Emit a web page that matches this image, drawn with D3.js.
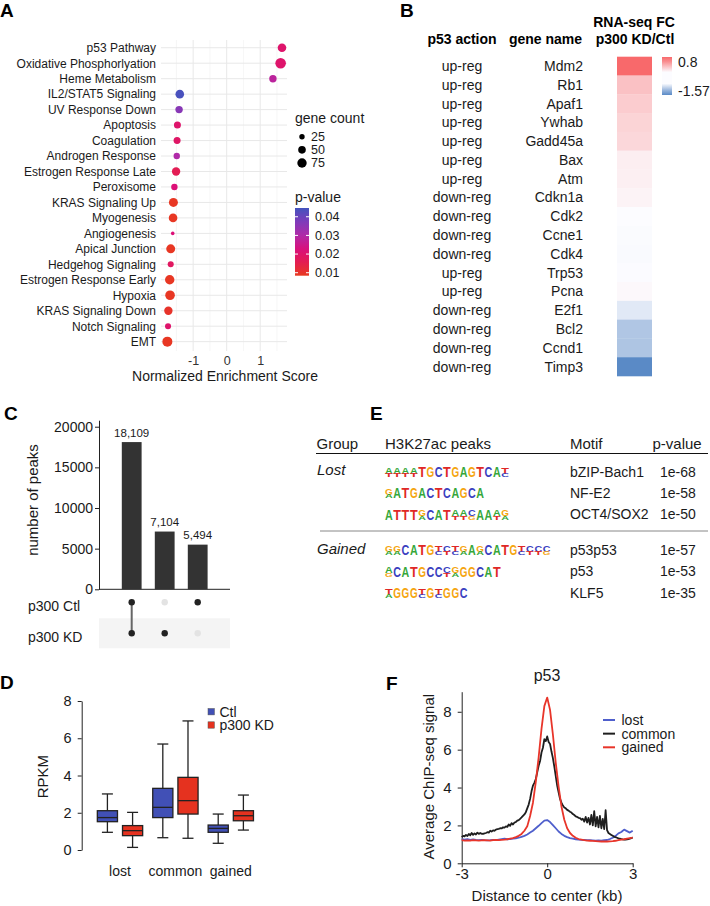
<!DOCTYPE html>
<html><head><meta charset="utf-8">
<script src="https://cdn.jsdelivr.net/npm/d3@7"></script>
<style>body{margin:0;background:#fff} svg{display:block;font-family:"Liberation Sans",Arial,Helvetica,sans-serif}</style>
</head><body><svg id="fig" width="710" height="906"></svg>
<script>
// ---------- Panel A data ----------
const pathways = ["p53 Pathway","Oxidative Phosphorlyation","Heme Metabolism","IL2/STAT5 Signaling","UV Response Down","Apoptosis","Coagulation","Androgen Response","Estrogen Response Late","Peroxisome","KRAS Signaling Up","Myogenesis","Angiogenesis","Apical Junction","Hedgehog Signaling","Estrogen Response Early","Hypoxia","KRAS Signaling Down","Notch Signaling","EMT"];
const nesValues = [1.65,1.61,1.38,-1.40,-1.42,-1.47,-1.48,-1.49,-1.51,-1.56,-1.59,-1.60,-1.61,-1.67,-1.67,-1.70,-1.69,-1.74,-1.75,-1.77];
const geneCounts = [63,96,47,63,47,42,42,35,60,35,69,63,11,69,31,76,79,60,31,86];
const pValues = [0.020,0.020,0.028,0.044,0.036,0.020,0.019,0.030,0.016,0.022,0.009,0.009,0.022,0.009,0.018,0.009,0.009,0.010,0.020,0.009];
const nesTicks = [-1,0,1];
const sizeLegend = [25,50,75];
const pLegend = [0.04,0.03,0.02,0.01];

// ---------- Panel B data ----------
const geneNames = ["Mdm2","Rb1","Apaf1","Ywhab","Gadd45a","Bax","Atm","Cdkn1a","Cdk2","Ccne1","Cdk4","Trp53","Pcna","E2f1","Bcl2","Ccnd1","Timp3"];
const p53Action = ["up-reg","up-reg","up-reg","up-reg","up-reg","up-reg","up-reg","down-reg","down-reg","down-reg","down-reg","up-reg","up-reg","down-reg","down-reg","down-reg","down-reg"];
const foldChange = [0.8,0.32,0.26,0.22,0.20,0.075,0.07,0.05,0.0,-0.02,-0.03,-0.01,0.02,-0.26,-0.74,-0.76,-1.57];

// ---------- Panel C data ----------
const intersections = ["both","KD only","Ctl only"];
const peakCounts = [18109,7104,5494];
const peakSets = ["p300 Ctl","p300 KD"];
const membership = [[1,1],[0,1],[1,0]];
const peakTicks = [0,5000,10000,15000,20000];

// ---------- Panel D data ----------
const boxGroups = ["lost","common","gained"];
const boxConditions = ["Ctl","p300 KD"];
const whiskerLow = [0.95,0.14,0.66,0.63,0.36,1.07];
const q1Values = [1.52,0.77,1.74,1.93,0.95,1.57];
const medianValues = [1.74,1.04,2.29,2.65,1.16,1.84];
const q3Values = [2.11,1.31,3.31,3.90,1.34,2.11];
const whiskerHigh = [3.01,2.02,5.69,6.93,1.93,2.95];
const rpkmTicks = [0,2,4,6,8];

// ---------- Panel E data ----------
const motifGroups = ["Lost","Lost","Lost","Gained","Gained","Gained"];
const motifNames = ["bZIP-Bach1","NF-E2","OCT4/SOX2","p53p53","p53","KLF5"];
const motifPvalues = ["1e-68","1e-58","1e-50","1e-57","1e-53","1e-35"];
const motifLogos = [
  ["AT","AT","AT","AT","T","G","C","T","G","A","G","T","C","A","TC"],
  ["GA","A","T","G","A","C","T","C","A","G","C","A"],
  ["A","T","T","T","GA","C","A","T","AT","AT","CG","A","A","AT","GA"],
  ["GA","GA","C","A","T","G","TC","CT","TC","GA","A","GA","C","A","T","G","TC","CT","CT","CG"],
  ["AG","C","A","T","G","C","C","CT","GA","G","G","C","A","T"],
  ["TA","G","G","G","TC","G","TC","G","G","C"]
];

// ---------- Panel F data ----------
const profileSeries = ["lost","common","gained"];
const lostSignal = [1.28,1.25,1.27,1.24,1.26,1.23,1.22,1.24,1.22,1.21,
 1.22,1.24,1.22,1.25,1.28,1.30,1.27,1.28,1.30,1.32,
 1.35,1.40,1.45,1.52,1.62,1.72,1.85,1.98,2.12,2.25,
 2.28,
 2.18,2.02,1.85,1.68,1.55,1.45,1.38,1.33,1.30,1.27,
 1.25,1.24,1.23,1.22,1.22,1.21,1.20,1.21,1.20,1.22,
 1.23,1.28,1.35,1.45,1.58,1.65,1.78,1.70,1.62,1.72];
const gainedSignal = [1.22,1.20,1.21,1.20,1.22,1.21,1.20,1.21,1.22,1.21,
 1.20,1.22,1.23,1.22,1.24,1.25,1.27,1.30,1.33,1.38,
 1.45,1.55,1.72,1.95,2.50,3.20,4.30,5.60,7.10,8.30,
 8.75,
 8.10,6.80,5.30,4.05,3.00,2.30,1.85,1.60,1.45,1.35,
 1.28,1.25,1.22,1.20,1.19,1.18,1.17,1.16,1.15,1.15,
 1.15,1.16,1.17,1.19,1.22,1.25,1.27,1.30,1.33,1.35];
const commonSignal = [1.38,1.45,1.42,1.50,1.44,1.55,1.48,1.60,1.50,1.58,
 1.52,1.62,1.55,1.60,1.56,1.55,1.58,1.60,1.64,1.62,
 1.72,1.68,1.74,1.72,1.78,1.80,1.82,1.85,1.84,1.90,
 1.88,1.95,1.92,2.05,1.98,2.12,2.05,2.15,2.18,2.25,
 2.28,2.35,2.42,2.50,2.58,2.70,2.90,3.10,3.40,3.80,
 4.10,4.25,4.45,4.80,5.15,5.40,5.85,6.10,6.55,6.45,
 6.70,6.40,6.30,5.90,5.55,5.10,4.60,4.10,3.75,3.40,
 3.20,3.05,2.95,2.90,2.82,2.78,2.72,2.68,2.60,2.55,
 2.48,2.45,2.40,2.38,2.30,2.35,2.20,2.45,2.15,2.40,
 2.05,2.55,2.00,2.75,1.95,2.45,1.90,2.50,1.85,2.35,
 1.80,2.80,1.75,1.60,1.55,1.50,1.45,1.40,1.38,1.35,
 1.32,1.30,1.28,1.26,1.25,1.25,1.26,1.28,1.30,1.33,
 1.35];
const signalTicks = [0,2,4,6,8];
const distTicks = [-3,0,3];

// ================== DRAW ==================
const svg = d3.select("#fig");
const TXT = "#1a1a1a";
function label(g, t, x, y, o) {
  o = o || {};
  const el = g.append("text").attr("x", x).attr("y", y).attr("dy", o.dy === undefined ? "0.35em" : o.dy)
    .attr("font-size", o.size || 14).attr("fill", o.fill || TXT)
    .attr("text-anchor", o.anchor || "start").text(t);
  if (o.weight) el.attr("font-weight", o.weight);
  if (o.style) el.attr("font-style", o.style);
  if (o.rotate) el.attr("transform", `rotate(-90,${x},${y})`);
  return el;
}
function panelLabel(t, x, y) { label(svg, t, x, y, {size: 19, weight: "bold", dy: 0, fill: "#000"}); }

// ---------- Panel A ----------
(function(){
  const g = svg.append("g");
  panelLabel("A", 0, 17);
  const x = d3.scaleLinear().domain([-1.96, 1.8]).range([161, 287]);
  const y = d3.scalePoint().domain(pathways).range([40, 349.4]).padding(0.5);
  const r = d3.scaleSqrt().domain([0, 100]).range([0, 5.4]);
  const col = d3.scaleLinear().domain([0.0084,0.015,0.022,0.03,0.038,0.0447])
    .range(["#e8391f","#e41f4e","#dc0f77","#b02aa8","#7a3cbb","#4353bd"]);
  const [y0, y1] = [40, 351];
  [-1.5,-0.5,0.5,1.5].forEach(v => g.append("line").attr("x1", x(v)).attr("x2", x(v)).attr("y1", y0).attr("y2", y1).attr("stroke", "#f2f2f2").attr("stroke-width", 0.7));
  nesTicks.forEach(v => g.append("line").attr("x1", x(v)).attr("x2", x(v)).attr("y1", y0).attr("y2", y1).attr("stroke", "#e8e8e8").attr("stroke-width", 1));
  pathways.forEach(p => g.append("line").attr("x1", 161).attr("x2", 287).attr("y1", y(p)).attr("y2", y(p)).attr("stroke", "#e8e8e8").attr("stroke-width", 1));
  pathways.forEach((p, i) => g.append("circle").attr("cx", x(nesValues[i])).attr("cy", y(p)).attr("r", r(geneCounts[i])).attr("fill", col(pValues[i])));
  const ay = g.append("g").attr("transform", "translate(161,0)").call(d3.axisLeft(y).tickSize(0).tickPadding(5));
  ay.select(".domain").remove();
  ay.selectAll("text").attr("font-size", 12).attr("fill", TXT).attr("font-family", null);
  const ax = g.append("g").attr("transform", `translate(0,${y1})`).call(d3.axisBottom(x).tickValues(nesTicks).tickSize(0).tickPadding(5.5).tickFormat(d => String(d)));
  ax.select(".domain").remove();
  ax.selectAll("text").attr("font-size", 12.5).attr("fill", "#333").attr("font-family", null);
  label(g, "Normalized Enrichment Score", 225, 376, {anchor: "middle", size: 14});
  label(g, "gene count", 295, 118, {size: 14});
  const ly = d3.scalePoint().domain(sizeLegend).range([136.7, 163]);
  sizeLegend.forEach(v => {
    g.append("circle").attr("cx", 302).attr("cy", ly(v)).attr("r", r(v)).attr("fill", "#000");
    label(g, String(v), 311, ly(v), {size: 12.5});
  });
  label(g, "p-value", 295, 197, {size: 14});
  const cb = d3.scaleLinear().domain([0.0447, 0.0084]).range([208, 275.7]);
  const defs = svg.append("defs");
  const grad = defs.append("linearGradient").attr("id", "pgrad").attr("x1", 0).attr("x2", 0).attr("y1", 0).attr("y2", 1);
  d3.range(0, 1.0001, 0.1).forEach(t => grad.append("stop").attr("offset", t).attr("stop-color", col(0.0447 - t * (0.0447 - 0.0084))));
  g.append("rect").attr("x", 295).attr("y", 208).attr("width", 14).attr("height", 67.7).attr("fill", "url(#pgrad)");
  pLegend.forEach(v => {
    g.append("line").attr("x1", 295).attr("x2", 298).attr("y1", cb(v)).attr("y2", cb(v)).attr("stroke", "#fff");
    g.append("line").attr("x1", 306).attr("x2", 309).attr("y1", cb(v)).attr("y2", cb(v)).attr("stroke", "#fff");
    label(g, String(v), 315, cb(v), {size: 12.5});
  });
})();

// ---------- Panel B ----------
(function(){
  const g = svg.append("g");
  panelLabel("B", 400, 17);
  const y = d3.scaleBand().domain(geneNames).range([56.7, 376]);
  const col = d3.scaleLinear().domain([-1.57, 0, 0.8]).range(["#5A8AC6", "#FCFCFF", "#F8696B"]);
  label(g, "RNA-seq FC", 634, 22, {anchor: "middle", weight: "bold", size: 14, fill: "#000"});
  label(g, "p300 KD/Ctl", 635, 39, {anchor: "middle", weight: "bold", size: 14, fill: "#000"});
  label(g, "p53 action", 462, 39, {anchor: "middle", weight: "bold", size: 14, fill: "#000"});
  label(g, "gene name", 545.5, 39, {anchor: "middle", weight: "bold", size: 14, fill: "#000"});
  geneNames.forEach((gn, i) => {
    const cy = y(gn) + y.bandwidth() / 2;
    label(g, p53Action[i], 462, cy, {anchor: "middle", size: 14});
    label(g, gn, 583, cy, {anchor: "end", size: 14});
    g.append("rect").attr("x", 617).attr("y", y(gn)).attr("width", 35).attr("height", y.bandwidth() + 0.3).attr("fill", col(foldChange[i]));
  });
  const defs = svg.append("defs");
  const grad = defs.append("linearGradient").attr("id", "fcgrad").attr("x1", 0).attr("x2", 0).attr("y1", 0).attr("y2", 1);
  [[0, 0.8],[0.12,0.6],[0.4, 0],[0.7,0],[0.88,-1.0],[1, -1.57]].forEach(([o, v]) => grad.append("stop").attr("offset", o).attr("stop-color", col(v)));
  g.append("rect").attr("x", 662).attr("y", 57).attr("width", 10).attr("height", 38).attr("fill", "url(#fcgrad)");
  label(g, String(d3.max(foldChange)), 678, 62, {size: 14});
  label(g, String(d3.min(foldChange)), 678, 91, {size: 14});
})();

// ---------- Panel C ----------
(function(){
  const g = svg.append("g");
  panelLabel("C", 4, 420);
  const y = d3.scaleLinear().domain([0, 20800]).range([589.3, 420.2]);
  const x = d3.scaleBand().domain(intersections).range([115.2, 214.2]).paddingInner(0.4).paddingOuter(0.2);
  const ax = g.append("g").attr("transform", "translate(99,0)").call(d3.axisLeft(y).tickValues(peakTicks).tickSize(4).tickSizeOuter(0).tickPadding(2).tickFormat(d3.format("d")));
  ax.selectAll("text").attr("font-size", 14).attr("fill", TXT).attr("font-family", null);
  ax.selectAll("line,path").attr("stroke", "#222");
  g.append("line").attr("x1", 99).attr("x2", 230).attr("y1", 589.3).attr("y2", 589.3).attr("stroke", "#222");
  label(g, "number of peaks", 33, 500, {anchor: "middle", size: 15, rotate: true});
  intersections.forEach((k, i) => {
    g.append("rect").attr("x", x(k)).attr("y", y(peakCounts[i])).attr("width", x.bandwidth()).attr("height", y(0) - y(peakCounts[i])).attr("fill", "#333");
    label(g, d3.format(",")(peakCounts[i]), x(k) + x.bandwidth() / 2, y(peakCounts[i]) - 5.5, {anchor: "middle", size: 11.5, dy: 0});
  });
  const sy = d3.scalePoint().domain(peakSets).range([602.3, 633.3]);
  g.append("rect").attr("x", 99).attr("y", sy("p300 KD") - 15).attr("width", 131).attr("height", 30).attr("fill", "#f4f4f4");
  peakSets.forEach(s => label(g, s, 28, sy(s) + 4, {size: 14}));
  intersections.forEach((k, i) => {
    const cx = x(k) + x.bandwidth() / 2;
    const on = peakSets.filter((s, j) => membership[i][j]);
    if (on.length > 1) g.append("line").attr("x1", cx).attr("x2", cx).attr("y1", sy(on[0])).attr("y2", sy(on[on.length - 1])).attr("stroke", "#666").attr("stroke-width", 2);
    peakSets.forEach((s, j) => g.append("circle").attr("cx", cx).attr("cy", sy(s)).attr("r", 3.2).attr("fill", membership[i][j] ? "#222" : "#e3e3e3"));
  });
})();

// ---------- Panel D ----------
(function(){
  const g = svg.append("g");
  panelLabel("D", 0, 689);
  const y = d3.scaleLinear().domain([0, 8]).range([850, 701]);
  const xg = d3.scaleBand().domain(boxGroups).range([92.3, 258.5]);
  const xc = d3.scaleBand().domain(boxConditions).range([0, xg.bandwidth()]).paddingInner(0.2).paddingOuter(0.2);
  const fills = {"Ctl": "#4150b6", "p300 KD": "#e5321f"};
  const ax = g.append("g").attr("transform", "translate(81.7,0)").call(d3.axisLeft(y).tickValues(rpkmTicks).tickSize(4).tickSizeOuter(0).tickPadding(6));
  ax.selectAll("text").attr("font-size", 14.5).attr("fill", TXT).attr("font-family", null);
  ax.selectAll("line,path").attr("stroke", "#222");
  label(g, "RPKM", 43, 776.7, {anchor: "middle", size: 15, rotate: true});
  boxGroups.forEach((gr, gi) => {
    boxConditions.forEach((c, ci) => {
      const i = gi * 2 + ci;
      const x0 = xg(gr) + xc(c), w = xc.bandwidth(), cx = x0 + w / 2;
      const ln = (a, b, c2, d) => g.append("line").attr("x1", a).attr("x2", c2).attr("y1", b).attr("y2", d).attr("stroke", "#222").attr("stroke-width", 1.3);
      ln(cx, y(whiskerHigh[i]), cx, y(q3Values[i]));
      ln(cx, y(q1Values[i]), cx, y(whiskerLow[i]));
      ln(cx - 5.5, y(whiskerHigh[i]), cx + 5.5, y(whiskerHigh[i]));
      ln(cx - 5.5, y(whiskerLow[i]), cx + 5.5, y(whiskerLow[i]));
      g.append("rect").attr("x", x0).attr("y", y(q3Values[i])).attr("width", w).attr("height", y(q1Values[i]) - y(q3Values[i]))
        .attr("fill", fills[c]).attr("stroke", "#222").attr("stroke-width", 1.3);
      ln(x0, y(medianValues[i]), x0 + w, y(medianValues[i]));
    });
    label(g, gr, xg(gr) + xg.bandwidth() / 2, 870.7, {anchor: "middle", size: 14});
  });
  const ly = d3.scalePoint().domain(boxConditions).range([711.7, 725]);
  boxConditions.forEach(c => {
    g.append("rect").attr("x", 208).attr("y", ly(c) - 3.2).attr("width", 6.4).attr("height", 6.4).attr("fill", fills[c]).attr("stroke", "#555").attr("stroke-width", 0.5);
    label(g, c, 219.5, ly(c), {size: 14});
  });
})();

// ---------- Panel E ----------
(function(){
  const g = svg.append("g");
  panelLabel("E", 370, 420);
  label(g, "Group", 316.5, 444, {size: 15});
  label(g, "H3K27ac peaks", 385, 444, {size: 15});
  label(g, "Motif", 570, 444, {size: 15});
  label(g, "p-value", 652.5, 444, {size: 15});
  g.append("line").attr("x1", 316).attr("x2", 708).attr("y1", 453.5).attr("y2", 453.5).attr("stroke", "#111").attr("stroke-width", 1.2);
  g.append("line").attr("x1", 320).attr("x2", 708).attr("y1", 531).attr("y2", 531).attr("stroke", "#888").attr("stroke-width", 1);
  const rowY = i => 471.7 + i * 21.3 + (i >= 3 ? 14.4 : 0);
  const logoColor = {A: "#36a73a", C: "#3b3fbf", G: "#f5a50f", T: "#df2826"};
  const advance = {A: 0.722, C: 0.722, G: 0.778, T: 0.611};
  const colW = 8.3;
  motifNames.forEach((m, i) => {
    const cy = rowY(i);
    if (i === 0 || motifGroups[i] !== motifGroups[i - 1]) label(g, motifGroups[i], 317, cy - 1.5, {size: 15, style: "italic"});
    label(g, m, 570, cy, {size: 14});
    label(g, motifPvalues[i], 660, cy, {size: 14});
    const base = cy + 5.5;
    const logo = g.append("g");
    motifLogos[i].forEach((colStr, k) => {
      const letters = colStr.split("");
      const hs = letters.length === 1 ? [10.5] : [6.6, 3.4];
      const fs0 = hs[0] / 0.716;
      const sx = (colW - 0.6) / (advance[letters[0]] * fs0);
      // one text element per logo column; stacked letters are tspans
      const t = logo.append("text").attr("transform", `translate(${385 + k * colW},0) scale(${sx},1)`).attr("font-weight", "bold");
      let yy = base - d3.sum(hs);
      letters.forEach((L, j) => {
        yy += hs[j];
        const ts = t.append("tspan").attr("x", 0).attr("y", yy).attr("font-size", hs[j] / 0.716).attr("fill", logoColor[L]).text(L);
        if (j > 0) ts.attr("textLength", (colW - 0.6) / sx).attr("lengthAdjust", "spacingAndGlyphs");
      });
    });
  });
})();

// ---------- Panel F ----------
(function(){
  const g = svg.append("g");
  panelLabel("F", 386, 690);
  const x = d3.scaleLinear().domain([-3, 3]).range([461.7, 632.7]);
  const y = d3.scaleLinear().domain([0, 9.06]).range([863.3, 691.7]);
  label(g, "p53", 547, 675, {anchor: "middle", size: 16});
  const ay = g.append("g").attr("transform", "translate(461.7,0)").call(d3.axisLeft(y).tickValues(signalTicks).tickSize(4).tickSizeOuter(0).tickPadding(6));
  const ax = g.append("g").attr("transform", "translate(0,863.3)").call(d3.axisBottom(x).tickValues(distTicks).tickSize(4).tickSizeOuter(0).tickPadding(1).tickFormat(d => String(d)));
  [ay, ax].forEach(a => { a.selectAll("text").attr("font-size", 15).attr("fill", TXT).attr("font-family", null); a.selectAll("line,path").attr("stroke", "#222"); });
  label(g, "Average ChIP-seq signal", 429, 776.7, {anchor: "middle", size: 15, rotate: true});
  label(g, "Distance to center (kb)", 547, 896, {anchor: "middle", size: 15});
  const colors = {lost: "#4f5fcc", common: "#1e1e1e", gained: "#e8352a"};
  const data = {lost: lostSignal, common: commonSignal, gained: gainedSignal};
  profileSeries.forEach(s => {
    const vals = data[s];
    const step = 6 / (vals.length - 1);
    const line = d3.line().x((d, i) => x(-3 + i * step)).y(d => y(d));
    g.append("path").attr("d", line(vals)).attr("fill", "none").attr("stroke", colors[s]).attr("stroke-width", 1.8).attr("stroke-linejoin", "round");
  });
  const ly = d3.scalePoint().domain(profileSeries).range([720, 747.3]);
  profileSeries.forEach(s => {
    g.append("line").attr("x1", 603).attr("x2", 615).attr("y1", ly(s)).attr("y2", ly(s)).attr("stroke", colors[s]).attr("stroke-width", 2);
    label(g, s, 621.5, ly(s), {size: 14});
  });
})();
</script></body></html>
